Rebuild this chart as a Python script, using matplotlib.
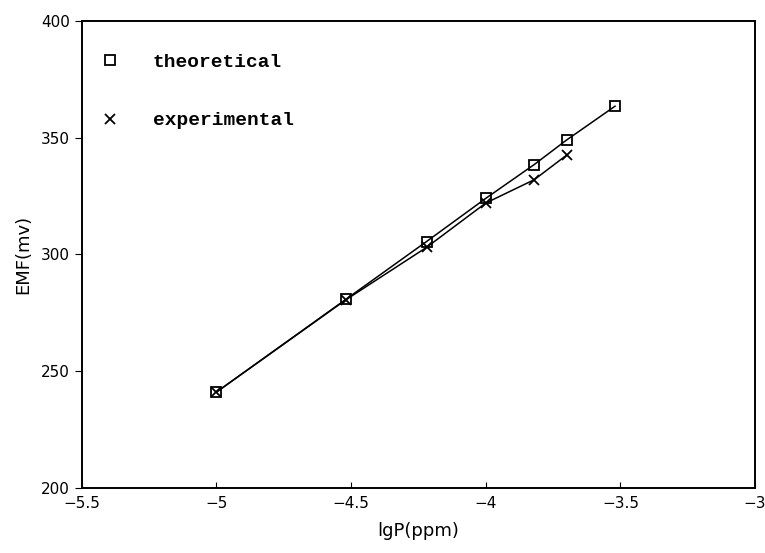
import matplotlib.pyplot as plt
from matplotlib.lines import Line2D

# lg of partial pressure (ppm) and EMF readings
lgp_theo = [-5.0, -4.52, -4.22, -4.0, -3.82, -3.7, -3.52]
emf_theo = [241, 280.7, 305.5, 324, 338.5, 349, 363.5]
lgp_exp = [-5.0, -4.52, -4.22, -4.0, -3.82, -3.7]
emf_exp = [241, 280.5, 303, 322, 332, 342.5]

xticks = [-5.5, -5, -4.5, -4, -3.5, -3]
xticklabels = ['\u22125.5', '\u22125', '\u22124.5', '\u22124', '\u22123.5', '\u22123']
yticks = [200, 250, 300, 350, 400]

fig = plt.figure(figsize=(7.65, 5.53), dpi=100)
ax = fig.add_axes([0.107, 0.118, 0.88, 0.844])

ax.plot(lgp_theo, emf_theo, color='black', lw=1.1, marker='s', ms=6.5,
        mfc='none', mec='black', mew=1.3)
ax.plot(lgp_exp, emf_exp, color='black', lw=1.1, marker='x', ms=7, mew=1.3)

ax.set_xlim(-5.5, -3)
ax.set_ylim(200, 400)
ax.set_xticks(xticks)
ax.set_xticklabels(xticklabels)
ax.set_yticks(yticks)
ax.tick_params(axis='x', direction='in', length=4, labelsize=11, pad=6)
ax.tick_params(axis='y', direction='out', length=5, labelsize=11)
for s in ax.spines.values():
    s.set_linewidth(1.4)

ax.set_xlabel('lgP(ppm)', fontsize=13, labelpad=8)
ax.set_ylabel('EMF(mv)', fontsize=13, labelpad=6)

handles = [Line2D([], [], ls='none', marker='s', ms=6.5, mfc='none', mec='black', mew=1.3),
           Line2D([], [], ls='none', marker='x', ms=7, mec='black', mew=1.3)]
ax.legend(handles, ['theoretical', 'experimental'], loc='upper left',
          bbox_to_anchor=(0.0156, 0.9475), borderaxespad=0, frameon=False,
          prop={'family': 'Liberation Mono', 'size': 14, 'weight': 'bold'},
          handletextpad=1.7, labelspacing=2.1, handlelength=1.0)

fig.savefig('out.png', dpi=100)
